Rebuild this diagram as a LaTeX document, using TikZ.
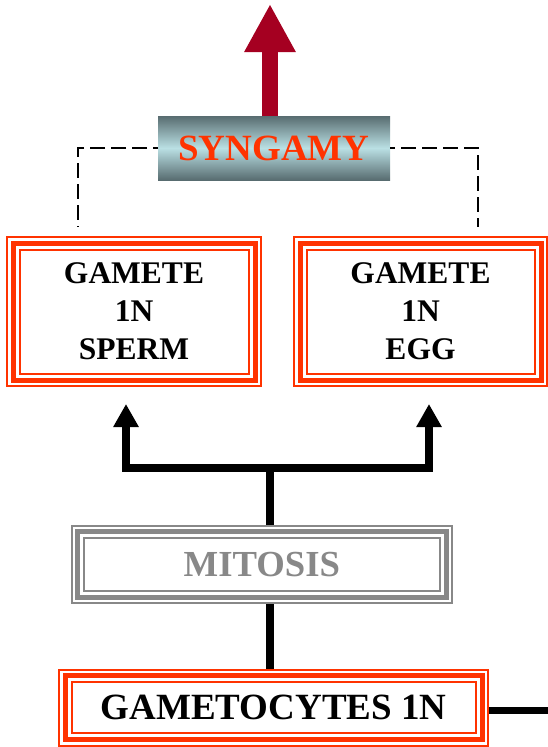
\documentclass[tikz,border=0pt]{standalone}
\usepackage{fontspec}
\setmainfont{Liberation Serif}
\usetikzlibrary{arrows.meta}
\definecolor{pred}{RGB}{255,51,0}
\definecolor{pgray}{RGB}{136,136,136}
\definecolor{darkred}{RGB}{165,0,33}
\definecolor{slate}{RGB}{88,108,112}
\definecolor{pale}{RGB}{186,224,228}
\newcommand\triframe[2]{%
  \draw[#2,line width=2pt] ([xshift=1pt,yshift=-1pt]#1.north west) rectangle ([xshift=-1pt,yshift=1pt]#1.south east);
  \draw[#2,line width=5pt] ([xshift=7pt,yshift=-7pt]#1.north west) rectangle ([xshift=-7pt,yshift=7pt]#1.south east);
  \draw[#2,line width=2pt] ([xshift=13.5pt,yshift=-13.5pt]#1.north west) rectangle ([xshift=-13.5pt,yshift=13.5pt]#1.south east);
}
\begin{document}
\begin{tikzpicture}[x=1pt,y=-1pt,
  box/.style={inner sep=0pt, outer sep=0pt, align=center},
  gamete/.style={box, minimum width=255pt, minimum height=151pt,
    font=\bfseries\fontsize{31.5}{38}\selectfont},
  blk/.style={line width=7.5pt, black, line join=miter},
  tipk/.style={-{Triangle[width=24pt,length=23pt]}},
  dashline/.style={line width=2.3pt, dash pattern=on 15pt off 6pt, dash phase=10pt}]
\useasboundingbox (0,0) rectangle (548,747);

\node[box, minimum width=232pt, minimum height=64pt,
  top color=slate, bottom color=slate, middle color=pale,
  text=pred, font=\bfseries\fontsize{37}{44}\selectfont] (syn) at (274,148) {SYNGAMY};

\node[gamete, minimum width=256pt] (sperm) at (134,311.5) {GAMETE\\1N\\SPERM};
\node[gamete] (egg) at (420.5,311.5) {GAMETE\\1N\\EGG};
\node[box, minimum width=382.3pt, minimum height=79.3pt, text=pgray,
  font=\bfseries\fontsize{36.7}{44}\selectfont] (mitosis) at (261.85,564.35) {MITOSIS};
\node[box, minimum width=431.3pt, minimum height=77.8pt,
  font=\bfseries\fontsize{37}{44}\selectfont] (gcy) at (273.65,707.6) {GAMETOCYTES 1N};

\triframe{sperm}{pred}
\triframe{egg}{pred}
\triframe{mitosis}{pgray}
\triframe{gcy}{pred}

\coordinate (J) at (270,468);
\coordinate (ltip) at (126,404);
\coordinate (rtip) at (429,404);
\coordinate (top) at (270,4);
\coordinate (rend) at (548,710);
\coordinate (dl) at (78,227);
\coordinate (dr) at (478,227);

\draw[blk] (mitosis.north -| J) -- (J);
\draw[blk, tipk] (J) -| (ltip);
\draw[blk, tipk] (J) -| (rtip);
\draw[blk] (mitosis.south -| J) -- (gcy.north -| J);
\draw[line width=7pt] (gcy.east |- rend) -- (rend);

\draw[darkred, line width=16pt, -{Triangle[width=48pt,length=48pt]}] (syn.north -| top) -- (top);

\draw[dashline] (syn.west) -| (dl);
\draw[dashline] (syn.east) -| (dr);
\end{tikzpicture}
\end{document}
